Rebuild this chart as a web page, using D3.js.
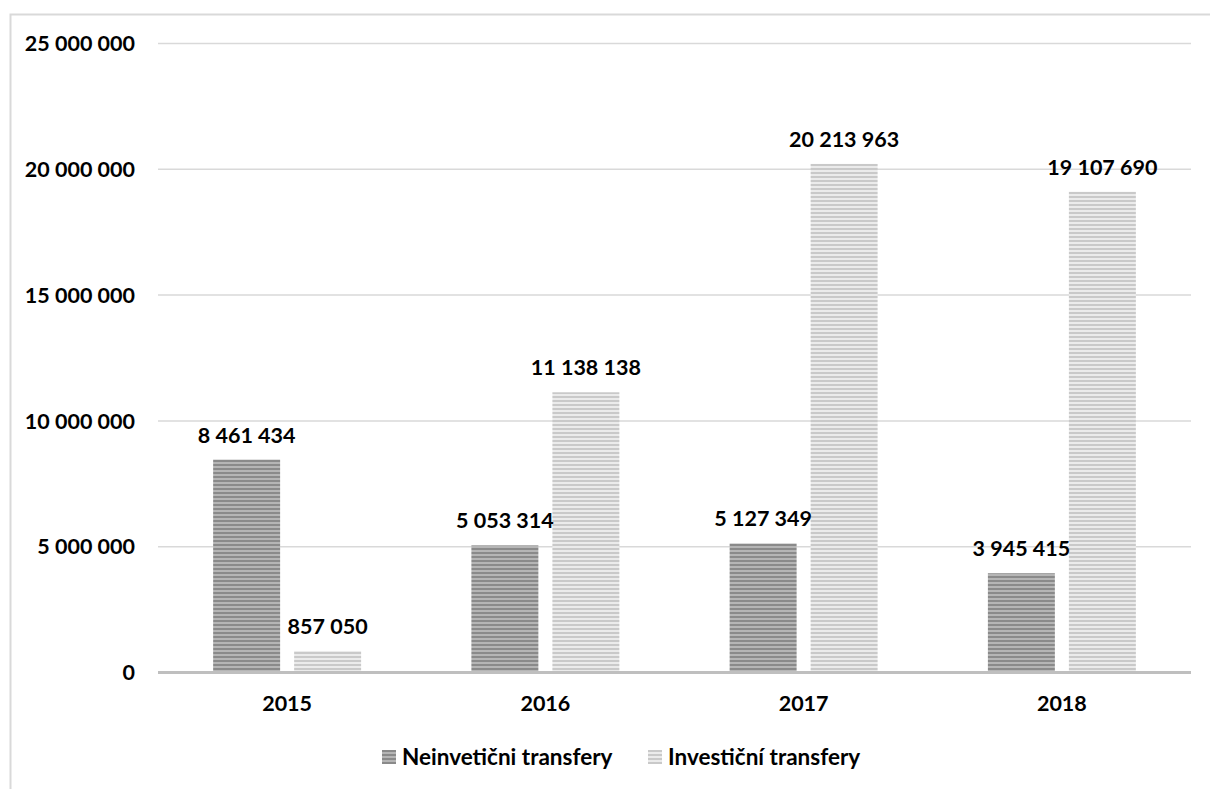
<!DOCTYPE html>
<html>
<head>
<meta charset="utf-8">
<script src="https://cdn.jsdelivr.net/npm/d3@7"></script>
<style>
  body { margin: 0; background: #fff; }
  text { font-family: Lato, "Open Sans", sans-serif; font-weight: bold; fill: #000; }
</style>
</head>
<body>
<div id="chart"></div>
<script>
// data
const years = ['2015', '2016', '2017', '2018'];
const seriesNames = ['Neinvetični transfery', 'Investiční transfery'];
const neinvesticni = [8461434, 5053314, 5127349, 3945415];
const investicni = [857050, 11138138, 20213963, 19107690];
const yTicks = [0, 5000000, 10000000, 15000000, 20000000, 25000000];

const width = 1210;
const height = 789;
const margin = { top: 43.5, right: 19, bottom: 116.5, left: 158 };

const fmt = v => d3.format(',')(v).replace(/,/g, ' ');

const svg = d3.select('#chart')
  .append('svg')
  .attr('width', width)
  .attr('height', height);

// outer frame (runs off the bottom/right of the view)
svg.append('rect')
  .attr('x', 10.5).attr('y', 14.5)
  .attr('width', 1400).attr('height', 1000)
  .attr('fill', 'none')
  .attr('stroke', '#d9d9d9')
  .attr('stroke-width', 2);

// stripe patterns
const defs = svg.append('defs');
const patterns = [
  { id: 'pDark', a: '#8a8a8a', b: '#b5b5b5' },
  { id: 'pLight', a: '#c9c9c9', b: '#ebebeb' }
];
patterns.forEach(p => {
  const pat = defs.append('pattern')
    .attr('id', p.id)
    .attr('patternUnits', 'userSpaceOnUse')
    .attr('width', 8).attr('height', 4);
  pat.append('rect').attr('width', 8).attr('height', 4).attr('fill', p.b);
  pat.append('rect').attr('width', 8).attr('height', 2).attr('fill', p.a);
});
const fills = ['url(#pDark)', 'url(#pLight)'];

const x0 = d3.scaleBand()
  .domain(years)
  .range([margin.left, width - margin.right])
  .paddingInner(0.427)
  .paddingOuter(0.2135);

const x1 = d3.scaleBand()
  .domain([0, 1])
  .range([0, x0.bandwidth()])
  .paddingInner(0.173);

const y = d3.scaleLinear()
  .domain([0, 25000000])
  .range([height - margin.bottom, margin.top]);

// gridlines
svg.append('g')
  .selectAll('line')
  .data(yTicks.filter(d => d > 0))
  .enter().append('line')
  .attr('x1', margin.left)
  .attr('x2', width - margin.right)
  .attr('y1', d => y(d))
  .attr('y2', d => y(d))
  .attr('stroke', '#d9d9d9')
  .attr('stroke-width', 1.5);

// y labels
svg.append('g')
  .selectAll('text')
  .data(yTicks)
  .enter().append('text')
  .attr('x', 135)
  .attr('y', d => y(d))
  .attr('dy', '0.36em')
  .attr('text-anchor', 'end')
  .style('font-size', '21.5px')
  .text(d => fmt(d));

// bars
const rows = years.map((yr, i) => ({ year: yr, values: [neinvesticni[i], investicni[i]] }));

const groups = svg.selectAll('.grp')
  .data(rows)
  .enter().append('g')
  .attr('class', 'grp')
  .attr('transform', d => `translate(${x0(d.year)},0)`);

groups.selectAll('rect')
  .data(d => d.values)
  .enter().append('rect')
  .attr('x', (d, i) => x1(i))
  .attr('y', d => y(d))
  .attr('width', x1.bandwidth())
  .attr('height', d => y(0) - y(d))
  .attr('fill', (d, i) => fills[i]);

groups.selectAll('.lbl')
  .data(d => d.values)
  .enter().append('text')
  .attr('class', 'lbl')
  .attr('x', (d, i) => x1(i) + x1.bandwidth() / 2)
  .attr('y', d => y(d) - 17)
  .attr('text-anchor', 'middle')
  .style('font-size', '21.5px')
  .text(d => fmt(d));

// x axis line
svg.append('line')
  .attr('x1', margin.left)
  .attr('x2', width - margin.right)
  .attr('y1', y(0))
  .attr('y2', y(0))
  .attr('stroke', '#bfbfbf')
  .attr('stroke-width', 3);

// x labels
svg.append('g')
  .selectAll('text')
  .data(years)
  .enter().append('text')
  .attr('x', d => x0(d) + x0.bandwidth() / 2)
  .attr('y', 711)
  .attr('text-anchor', 'middle')
  .style('font-size', '21.5px')
  .text(d => d);

// legend
const legendX = [382, 648];
const legend = svg.selectAll('.leg')
  .data(seriesNames)
  .enter().append('g')
  .attr('class', 'leg')
  .attr('transform', (d, i) => `translate(${legendX[i]},750)`);

legend.append('rect')
  .attr('width', 14)
  .attr('height', 14)
  .attr('fill', (d, i) => fills[i]);

legend.append('text')
  .attr('x', 20)
  .attr('y', 15)
  .style('font-size', '22.5px')
  .text(d => d);
</script>
</body>
</html>
